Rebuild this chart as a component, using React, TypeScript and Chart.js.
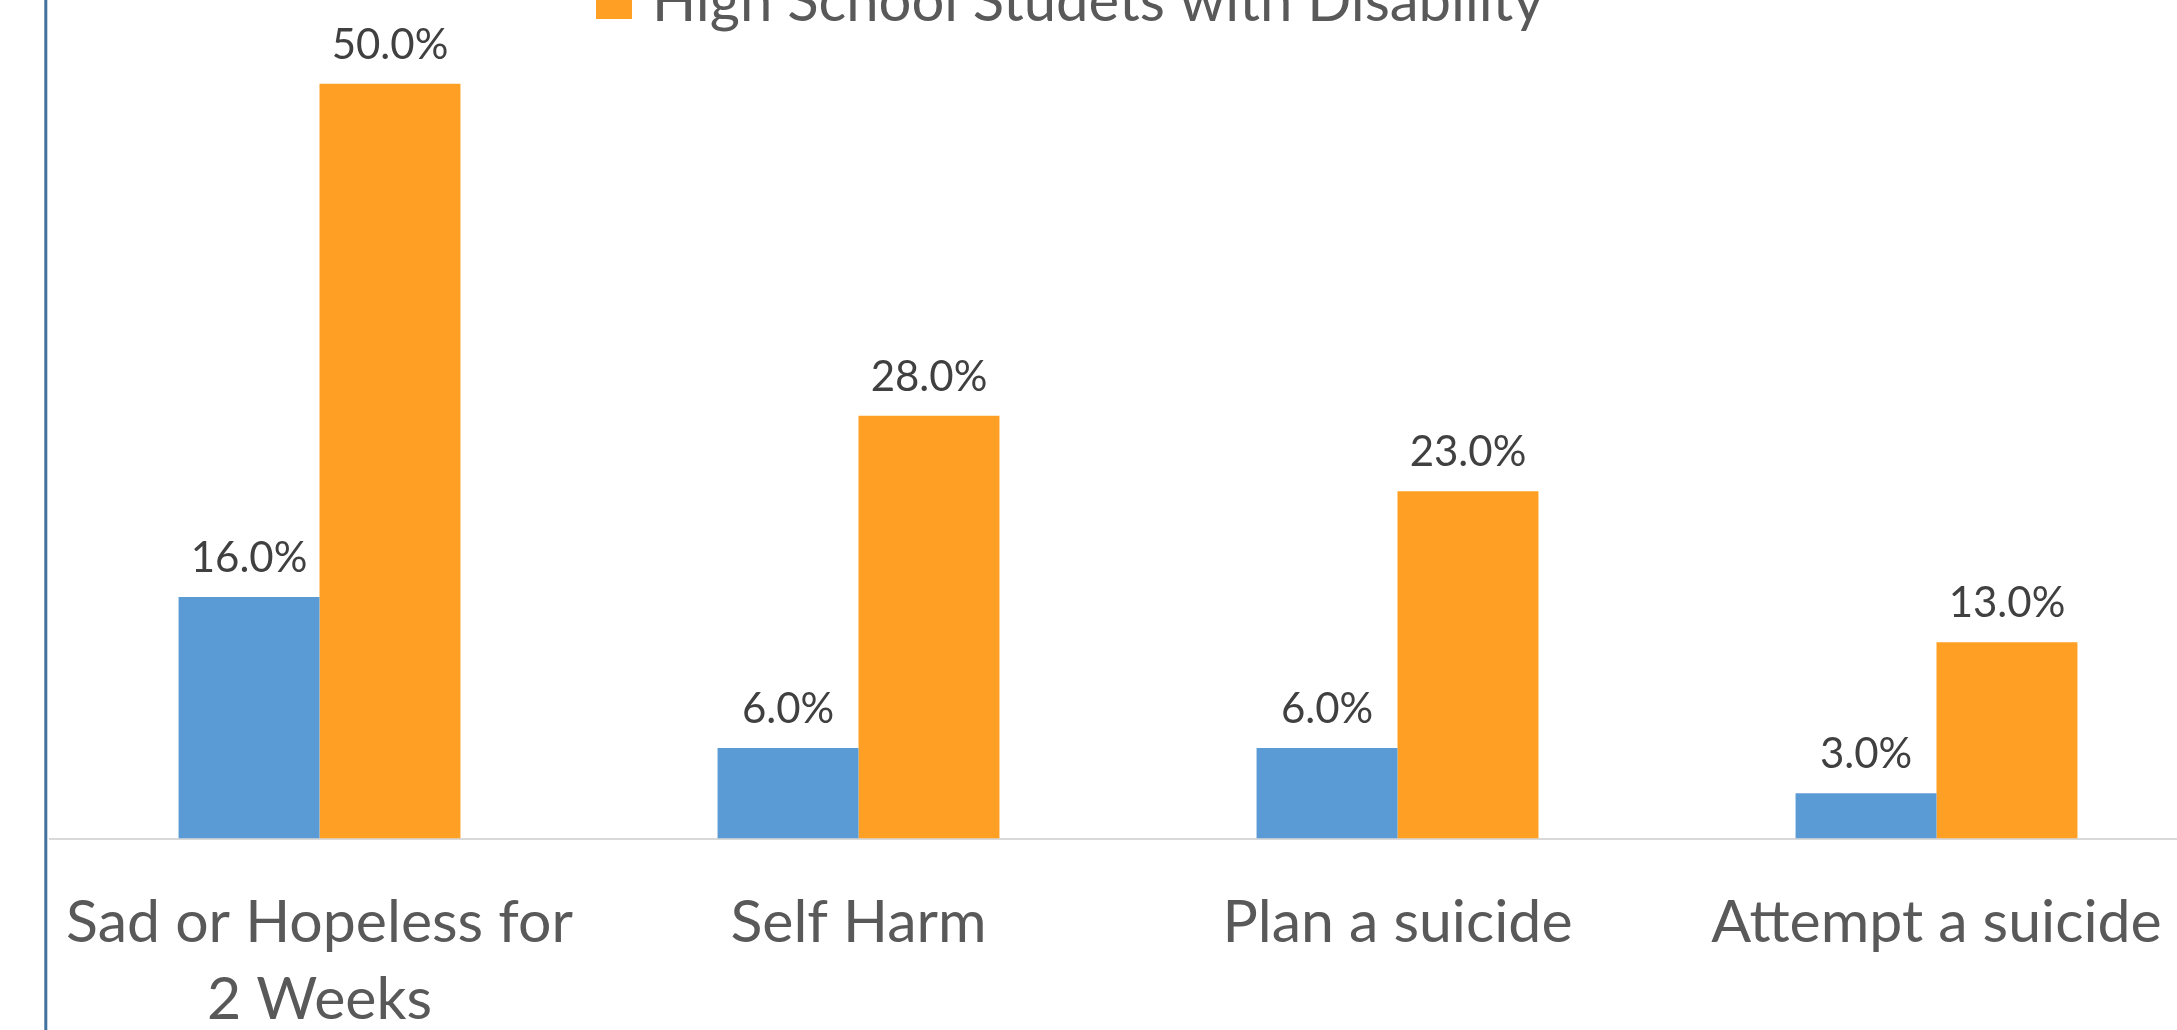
import React, { useEffect, useRef } from "react";
import { Chart, registerables } from "chart.js";

Chart.register(...registerables);

// Survey categories (first one wraps onto two lines)
const categories: (string | string[])[] = [
  ["Sad or Hopeless for", "2 Weeks"],
  "Self Harm",
  "Plan a suicide",
  "Attempt a suicide",
];

const seriesNames = [
  "High School Students without Disability",
  "High School Studets with Disability",
];

// Percent of students
const withoutDisability = [16, 6, 6, 3];
const withDisability = [50, 28, 23, 13];

const seriesColors = ["#5B9BD5", "#FF9F23"];

const FONT = "Lato, 'Open Sans', sans-serif";

// Canvas geometry (the canvas is larger than the view and offset upward)
const CANVAS_W = 2256;
const CANVAS_H = 1150;
const CANVAS_TOP = -60;

// Outer chart frame
const framePlugin = {
  id: "frame",
  afterDraw(chart: Chart) {
    const ctx = chart.ctx;
    ctx.save();
    ctx.strokeStyle = "#41719C";
    ctx.lineWidth = 3;
    ctx.strokeRect(45.8, 5, chart.width - 60, chart.height - 10);
    ctx.restore();
  },
};

// Value labels above each bar
const valueLabelPlugin = {
  id: "valueLabels",
  afterDatasetsDraw(chart: Chart) {
    const ctx = chart.ctx;
    ctx.save();
    ctx.font = `42px ${FONT}`;
    ctx.fillStyle = "#404040";
    ctx.textAlign = "center";
    ctx.textBaseline = "alphabetic";
    chart.data.datasets.forEach((ds, di) => {
      const meta = chart.getDatasetMeta(di);
      meta.data.forEach((bar: any, i: number) => {
        const v = ds.data[i] as number;
        ctx.fillText(`${v.toFixed(1)}%`, bar.x, bar.y - 25);
      });
    });
    ctx.restore();
  },
};

// Legend entry for the second series
const legendPlugin = {
  id: "seriesLegend",
  afterDraw(chart: Chart) {
    const ctx = chart.ctx;
    const ds = chart.data.datasets[1];
    ctx.save();
    ctx.fillStyle = ds.backgroundColor as string;
    ctx.fillRect(596, 43, 36, 36);
    ctx.font = `58px ${FONT}`;
    ctx.fillStyle = "#595959";
    ctx.textAlign = "left";
    ctx.textBaseline = "alphabetic";
    ctx.fillText(ds.label as string, 652, 81);
    ctx.restore();
  },
};

export default function App() {
  const canvasRef = useRef<HTMLCanvasElement | null>(null);

  useEffect(() => {
    if (!canvasRef.current) return;
    const chart = new Chart(canvasRef.current, {
      type: "bar",
      data: {
        labels: categories,
        datasets: [
          {
            label: seriesNames[0],
            data: withoutDisability,
            backgroundColor: seriesColors[0],
            categoryPercentage: 0.523,
            barPercentage: 1,
          },
          {
            label: seriesNames[1],
            data: withDisability,
            backgroundColor: seriesColors[1],
            categoryPercentage: 0.523,
            barPercentage: 1,
          },
        ],
      },
      options: {
        responsive: false,
        devicePixelRatio: 1,
        animation: false,
        layout: {
          padding: { left: 50, right: 50, top: 143.6, bottom: 51.4 },
        },
        plugins: {
          legend: { display: false },
          tooltip: { enabled: false },
        },
        scales: {
          x: {
            type: "category",
            offset: true,
            grid: { display: false, drawTicks: false },
            border: { display: true, color: "#D9D9D9", width: 2 },
            ticks: {
              color: "#595959",
              font: { family: FONT, size: 59, lineHeight: 1.32 },
              padding: 45,
              maxRotation: 0,
              minRotation: 0,
              autoSkip: false,
            },
            afterFit: (scale: any) => {
              scale.height = 200;
            },
          },
          y: {
            display: false,
            min: 0,
            max: 50,
          },
        },
      },
      plugins: [valueLabelPlugin, legendPlugin, framePlugin],
    });
    return () => chart.destroy();
  }, []);

  return (
    <div
      style={{
        position: "fixed",
        left: 0,
        top: 0,
        width: "100vw",
        height: "100vh",
        overflow: "hidden",
        background: "#ffffff",
      }}
    >
      <canvas
        ref={canvasRef}
        width={CANVAS_W}
        height={CANVAS_H}
        style={{
          position: "absolute",
          left: 0,
          top: CANVAS_TOP,
          width: CANVAS_W,
          height: CANVAS_H,
          display: "block",
        }}
      />
    </div>
  );
}
